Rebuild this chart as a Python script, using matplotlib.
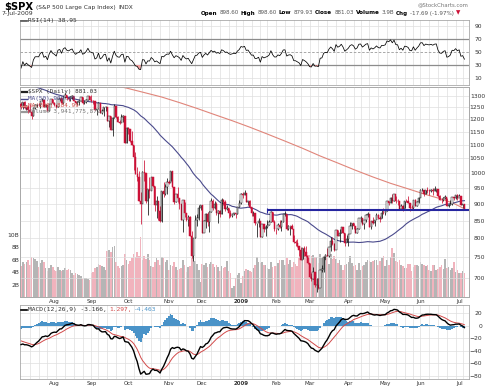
import numpy as np
import pandas as pd
import matplotlib
matplotlib.use("Agg")
import matplotlib.pyplot as plt
from matplotlib.lines import Line2D

W, H = 490, 389

# NYSE holidays inside the span
holidays = ["2008-03-21", "2008-05-26", "2008-07-04", "2008-09-01", "2008-11-27",
            "2008-12-25", "2009-01-01", "2009-01-19", "2009-02-16", "2009-04-10",
            "2009-05-25", "2009-07-03"]

# closes before the visible window (Mar 3 - Jul 3 2008), warm-up for MA50 / RSI / MACD
pre_closes = [
    1331.3, 1326.8, 1333.7, 1304.3, 1293.4, 1273.4, 1320.7, 1308.8, 1315.5, 1288.1,
    1276.6, 1330.7, 1298.4, 1329.5, 1349.9, 1353.0, 1341.1, 1325.8, 1315.2, 1322.7,
    1370.2, 1367.5, 1369.3, 1370.4, 1372.5, 1365.5, 1354.5, 1360.6, 1332.8, 1328.3, 1334.4,
    1364.7, 1365.6, 1390.3, 1388.2, 1375.9, 1379.9, 1388.8, 1397.8, 1396.4, 1390.9, 1385.6,
    1409.3, 1413.9, 1407.5, 1418.3, 1392.6, 1397.7, 1388.3, 1403.6, 1403.0, 1408.7, 1423.6,
    1425.4, 1426.6, 1413.4, 1390.7, 1394.4, 1375.9, 1385.4, 1390.8, 1398.3, 1400.4,
    1385.7, 1377.7, 1377.2, 1404.1, 1360.7, 1361.8, 1358.4, 1335.5, 1339.9, 1360.0, 1360.1,
    1350.9, 1337.8, 1342.8, 1317.9, 1318.0, 1314.3, 1322.0, 1283.2, 1278.4, 1280.0,
    1284.9, 1261.5, 1262.9,
]

# visible window: Jul 7 2008 - Jul 7 2009 (daily)
closes = [
    # Jul 2008
    1252.3, 1273.7, 1244.7, 1253.4, 1239.5, 1228.3, 1214.9, 1245.4, 1260.3, 1260.7,
    1260.0, 1277.0, 1282.2, 1252.5, 1257.8, 1234.4, 1263.2, 1284.3, 1267.4,
    # Aug
    1260.3, 1249.0, 1284.9, 1289.2, 1266.1, 1296.3, 1305.3, 1289.6, 1285.8, 1292.9, 1298.2,
    1278.6, 1266.7, 1274.5, 1277.7, 1292.2, 1266.8, 1271.5, 1281.7, 1300.7, 1282.8,
    # Sep
    1277.6, 1275.0, 1236.8, 1242.3, 1267.8, 1224.5, 1232.0, 1249.1, 1251.7, 1192.7, 1213.6,
    1156.4, 1206.5, 1255.1, 1207.1, 1188.2, 1185.9, 1209.2, 1213.3, 1106.4, 1166.4,
    # Oct
    1161.1, 1114.3, 1099.2, 1056.9, 996.2, 984.9, 909.9, 899.2, 1003.4, 998.0, 907.8, 946.4,
    940.6, 985.4, 955.1, 896.8, 908.1, 876.8, 848.9, 940.5, 930.1, 954.1, 968.8,
    # Nov
    966.3, 1005.8, 952.8, 904.9, 931.0, 919.2, 899.0, 852.3, 911.3, 873.3, 850.8, 859.1,
    806.6, 752.4, 800.0, 851.8, 857.4, 887.7, 896.2,
    # Dec
    816.2, 848.8, 870.7, 845.2, 876.1, 909.7, 888.7, 899.2, 873.6, 879.7, 868.6, 913.2,
    904.4, 885.3, 887.9, 871.6, 863.2, 868.2, 872.8, 869.4, 890.6, 903.3,
    # Jan 2009
    931.8, 927.5, 934.7, 906.7, 909.7, 890.4, 871.0, 871.8, 842.6, 843.7, 850.1, 805.2,
    840.2, 827.5, 832.0, 836.6, 845.7, 874.1, 845.1, 825.9,
    # Feb
    825.4, 838.5, 832.2, 845.9, 868.6, 869.9, 827.2, 833.7, 835.2, 826.8, 789.2, 788.4,
    778.9, 770.1, 743.3, 773.1, 764.9, 752.8, 735.1,
    # Mar
    700.8, 696.3, 712.9, 682.6, 683.4, 676.5, 719.6, 721.4, 750.7, 756.6, 753.9, 778.1,
    794.4, 784.0, 768.5, 822.9, 806.1, 813.9, 832.9, 815.9, 787.5, 797.9,
    # Apr
    811.1, 834.4, 842.5, 835.5, 815.6, 825.2, 856.6, 858.7, 841.5, 852.1, 865.3, 869.6,
    832.4, 850.1, 843.6, 851.9, 866.2, 857.5, 855.2, 873.6, 872.8,
    # May
    877.5, 907.2, 903.8, 919.5, 907.4, 929.2, 909.2, 908.4, 883.9, 893.1, 882.9, 909.7,
    908.1, 903.5, 888.3, 887.0, 910.3, 893.1, 906.8, 919.1,
    # Jun
    942.9, 944.7, 931.8, 942.5, 940.1, 939.1, 942.4, 939.2, 944.9, 946.2, 923.7, 912.0,
    910.7, 918.4, 921.2, 893.0, 895.1, 900.9, 920.3, 918.9, 927.2, 919.3,
    # Jul
    923.3, 896.4, 898.7, 881.0,
]

highs = [
    1273.9, 1274.0, 1277.4, 1257.7, 1253.5, 1262.3, 1234.7, 1246.9, 1262.3, 1262.2,
    1267.7, 1277.8, 1291.2, 1282.2, 1263.2, 1260.1, 1264.0, 1284.9, 1284.3,
    1270.5, 1260.5, 1285.0, 1291.7, 1289.2, 1297.9, 1313.2, 1303.0, 1294.0, 1300.1, 1301.0,
    1300.2, 1278.6, 1276.4, 1279.4, 1293.7, 1292.2, 1276.1, 1287.4, 1300.7, 1300.7,
    1303.0, 1280.6, 1275.0, 1242.6, 1274.4, 1268.0, 1243.4, 1249.1, 1255.1, 1250.9, 1214.8,
    1214.0, 1211.1, 1265.1, 1255.4, 1214.8, 1197.4, 1221.0, 1215.8, 1209.1, 1169.3,
    1167.0, 1161.1, 1153.8, 1099.2, 1072.9, 1021.1, 1005.3, 936.4, 1006.9, 1044.3, 994.5, 947.7,
    984.4, 985.4, 985.4, 955.1, 922.8, 896.1, 893.8, 940.5, 970.0, 963.2, 984.2,
    975.5, 1007.5, 1005.4, 952.4, 931.0, 952.0, 917.7, 898.4, 913.0, 904.9, 873.4, 866.4,
    864.6, 820.5, 801.2, 865.6, 868.9, 896.3, 896.3,
    888.6, 850.5, 873.1, 875.6, 879.4, 918.9, 916.3, 908.0, 904.6, 881.0, 880.7, 917.4,
    914.7, 911.0, 897.8, 887.4, 880.4, 869.8, 873.7, 873.7, 891.1, 910.3,
    934.7, 936.6, 943.9, 934.7, 910.0, 911.9, 890.4, 877.0, 871.8, 844.0, 858.1, 849.6,
    841.7, 838.2, 838.2, 852.5, 850.5, 877.9, 874.1, 851.7,
    825.9, 842.6, 851.9, 850.6, 870.8, 877.0, 868.1, 838.2, 835.2, 839.4, 808.2, 796.2,
    797.6, 778.7, 777.5, 775.5, 780.1, 779.4, 751.3,
    735.1, 712.4, 727.0, 708.4, 699.1, 700.0, 719.6, 731.9, 752.6, 758.3, 774.5, 778.1,
    803.0, 803.0, 788.9, 823.4, 823.4, 826.1, 833.0, 832.9, 815.9, 810.5,
    811.1, 845.5, 842.5, 842.5, 835.5, 828.7, 856.9, 864.3, 856.9, 853.0, 870.3, 875.6,
    868.3, 850.1, 861.8, 852.9, 871.8, 868.3, 864.5, 882.1, 888.7,
    880.2, 907.9, 907.7, 920.3, 929.6, 930.2, 923.0, 915.6, 908.4, 898.4, 897.0, 910.0,
    916.4, 924.6, 900.7, 896.7, 911.8, 913.8, 909.5, 920.0,
    947.8, 949.4, 942.5, 942.5, 951.7, 946.3, 947.0, 949.8, 956.2, 946.3, 942.5, 928.0,
    918.4, 921.9, 927.1, 918.1, 898.7, 910.9, 921.4, 922.0, 928.0, 930.0,
    931.9, 921.2, 898.7, 898.6,
]

lows = [
    1240.7, 1242.8, 1244.6, 1236.8, 1225.0, 1228.3, 1200.4, 1211.4, 1241.5, 1251.8,
    1255.5, 1248.8, 1275.4, 1251.6, 1251.1, 1234.4, 1234.4, 1264.3, 1265.3,
    1254.5, 1247.5, 1249.0, 1276.7, 1265.9, 1263.2, 1291.7, 1282.4, 1274.9, 1276.8, 1285.6,
    1276.1, 1263.1, 1261.2, 1261.0, 1277.7, 1264.8, 1263.1, 1268.8, 1282.1, 1282.8,
    1272.2, 1265.6, 1236.8, 1217.0, 1247.1, 1224.5, 1221.9, 1211.5, 1233.8, 1192.7, 1169.3,
    1155.9, 1133.5, 1206.8, 1205.6, 1187.2, 1179.8, 1187.6, 1187.6, 1106.4, 1106.4,
    1140.8, 1111.4, 1098.1, 1008.0, 996.2, 971.0, 909.2, 839.8, 912.8, 972.1, 904.0, 865.8,
    918.7, 943.8, 952.5, 877.0, 858.4, 852.9, 845.9, 845.3, 922.3, 928.6, 930.2,
    962.8, 971.0, 951.9, 899.7, 906.3, 906.5, 883.3, 852.3, 818.7, 859.5, 849.5, 834.3,
    806.2, 747.8, 741.0, 801.2, 835.0, 852.1, 881.2,
    815.7, 817.9, 827.6, 833.3, 818.4, 876.1, 881.2, 885.4, 866.9, 842.2, 860.9, 868.6,
    896.5, 877.4, 881.0, 857.1, 860.1, 861.4, 866.5, 857.1, 870.6, 889.6,
    899.4, 919.5, 927.3, 906.7, 896.8, 888.3, 864.3, 862.0, 836.9, 804.5, 830.7, 805.2,
    804.3, 817.9, 806.1, 827.7, 836.6, 845.7, 845.1, 821.7,
    811.1, 822.0, 829.2, 819.9, 845.9, 862.5, 823.0, 822.0, 808.1, 825.2, 787.5, 780.4,
    777.0, 754.3, 743.3, 745.0, 752.9, 751.8, 734.5,
    699.7, 692.4, 698.0, 679.3, 666.8, 672.9, 679.0, 713.9, 714.8, 742.5, 753.4, 749.9,
    765.6, 781.8, 766.2, 772.5, 805.9, 791.4, 814.0, 814.7, 779.8, 790.8,
    779.8, 814.5, 826.7, 826.8, 814.5, 814.8, 825.2, 845.4, 836.5, 826.8, 847.0, 860.9,
    832.4, 826.8, 840.6, 835.6, 853.9, 854.7, 847.1, 856.8, 868.9,
    866.1, 879.2, 897.3, 903.9, 901.4, 909.8, 903.8, 896.9, 881.3, 882.5, 878.9, 886.1,
    905.2, 901.4, 879.6, 883.8, 881.5, 891.9, 892.3, 903.8,
    923.3, 938.5, 923.9, 929.3, 934.1, 926.4, 936.7, 928.0, 939.0, 935.7, 919.7, 911.6,
    903.8, 907.9, 915.8, 893.0, 888.9, 896.0, 896.3, 913.0, 916.2, 912.9,
    920.8, 896.4, 886.4, 879.9,
]

# volume, billions of shares
volumes = [
    5.0, 5.7, 5.3, 5.6, 6.0, 5.1, 6.4, 6.3, 6.1, 5.8, 4.8, 5.5, 5.9, 5.7, 4.6, 4.2, 4.7, 5.2, 4.9,
    4.4, 4.2, 4.8, 4.3, 4.2, 4.3, 4.6, 4.3, 4.5, 4.4, 3.8, 3.5, 3.9, 3.7, 3.6, 3.4, 2.9, 3.0,
    3.1, 2.9, 2.8,
    3.9, 4.1, 4.6, 4.8, 5.4, 5.2, 5.0, 4.9, 4.3, 7.4, 7.6, 7.3, 8.1, 8.3, 5.6, 5.0, 4.7, 5.0,
    5.2, 7.0, 6.0,
    5.4, 5.8, 6.3, 6.9, 6.4, 7.2, 6.6, 9.6, 6.0, 6.6, 6.2, 6.9, 6.0, 5.0, 4.8, 5.6, 6.3, 5.9,
    5.1, 6.4, 6.3, 5.7, 6.0,
    4.3, 5.1, 5.0, 5.6, 4.9, 4.3, 4.5, 4.6, 5.9, 5.2, 4.1, 4.9, 5.0, 6.3, 7.0, 5.8, 5.4, 4.4, 2.4,
    5.3, 5.2, 5.5, 4.9, 5.3, 5.6, 5.3, 4.9, 5.1, 4.8, 4.2, 5.0, 4.7, 4.9, 5.8, 4.2, 3.9, 1.4,
    1.8, 3.0, 3.5, 3.9,
    2.2, 3.4, 4.2, 4.5, 4.4, 4.2, 4.0, 4.6, 5.1, 6.4, 5.7, 5.5, 5.6, 5.1, 5.2, 4.6, 4.5, 5.6,
    4.9, 5.0,
    5.0, 5.5, 5.9, 6.0, 5.9, 5.2, 6.3, 5.3, 5.9, 4.8, 5.6, 5.3, 5.0, 6.3, 6.0, 6.5, 6.6, 6.6, 6.8,
    6.8, 6.6, 6.7, 6.4, 6.4, 5.5, 7.0, 6.3, 6.3, 5.8, 6.6, 5.4, 7.0, 6.2, 6.6, 6.1, 5.5, 6.0,
    5.2, 4.4, 5.1, 5.3,
    5.7, 6.6, 5.5, 5.0, 5.1, 4.4, 5.5, 4.4, 5.0, 5.2, 5.6, 6.0, 5.8, 5.6, 5.8, 5.9, 5.9, 5.2,
    5.8, 6.3, 6.6,
    5.0, 6.0, 5.1, 6.5, 7.9, 7.1, 5.8, 5.6, 6.0, 5.2, 5.0, 4.7, 4.7, 5.4, 5.3, 4.2, 4.8, 5.1,
    5.2, 5.0,
    5.6, 5.4, 5.1, 5.0, 5.2, 4.4, 4.2, 5.1, 5.2, 4.3, 4.5, 4.8, 5.2, 4.5, 6.1, 4.7, 4.8, 4.4,
    4.7, 5.7, 4.0, 4.4,
    3.8, 3.8, 4.2, 3.9,
]

# MA(200) (trading-day index in the visible window, value)
ma200_idx = [40, 50, 60, 70, 80, 90, 100, 110, 120, 130, 140, 150, 160, 170, 180, 190,
             200, 210, 220, 230, 240, 246, 252]
ma200_val = [1372, 1352, 1334, 1314, 1294, 1270, 1245, 1219, 1194, 1168, 1141, 1114,
             1087, 1059, 1034, 1009, 986, 965, 947, 929, 913, 901, 885]

trend_level = 880.0
trend_start = 140

price_ticks = list(range(700, 1301, 50))
vol_ticks = [2, 4, 6, 8, 10]
vol_labels = ["2B", "4B", "6B", "8B", "10B"]
rsi_ticks = [90, 70, 50, 30, 10]
macd_ticks = [20, 0, -20, -40, -60, -80]

RED = "#cc1036"
MA50_C = "#4a4a8c"
MA200_C = "#e0857a"
HIST_C = "#4a93c8"
GRID_C = "#dedede"
SPINE_C = "#a8a8a8"


def rect(x0, y0, x1, y1):
    return [x0 / W, 1 - y1 / H, (x1 - x0) / W, (y1 - y0) / H]


def style(ax):
    for s in ax.spines.values():
        s.set_color(SPINE_C)
        s.set_linewidth(0.6)
    ax.tick_params(length=0, labelsize=4.3, colors="#333333")


# ---- data frames / indicators ----
dates = pd.bdate_range("2008-03-03", "2009-07-07")
dates = dates[~dates.isin(pd.to_datetime(holidays))]
n_pre = len(pre_closes)
assert len(closes) == len(highs) == len(lows) == len(volumes) == 253
assert len(dates) == n_pre + len(closes)

all_c = pd.Series(pre_closes + closes, index=dates)
vis = slice(n_pre, None)
c = np.array(closes)
o = all_c.shift(1).to_numpy()[vis]          # index opens at the prior close
hi = np.array(highs)
lo = np.array(lows)
vol = np.array(volumes)
vdates = dates[vis]
n = len(c)
x = np.arange(n)

ma50 = all_c.rolling(50).mean().to_numpy()[vis]
delta = all_c.diff()
gain = delta.clip(lower=0).ewm(alpha=1 / 14, adjust=False).mean()
loss = (-delta.clip(upper=0)).ewm(alpha=1 / 14, adjust=False).mean()
rsi = (100 - 100 / (1 + gain / loss)).to_numpy()[vis]
ema12 = all_c.ewm(span=12, adjust=False).mean()
ema26 = all_c.ewm(span=26, adjust=False).mean()
macd = ema12 - ema26
signal = macd.ewm(span=9, adjust=False).mean()
hist = (macd - signal).to_numpy()[vis]
macd = macd.to_numpy()[vis]
signal = signal.to_numpy()[vis]

# first trading day of each week / month
week_starts = [i for i in range(1, n) if vdates[i].isocalendar()[1] != vdates[i - 1].isocalendar()[1]]
month_starts = [i for i in range(1, n) if vdates[i].month != vdates[i - 1].month]
month_labels = ["2009" if vdates[i].month == 1 else vdates[i].strftime("%b") for i in month_starts]

XL = (-0.6, 254.6)

fig = plt.figure(figsize=(W / 100, H / 100), dpi=100)
fig.patch.set_facecolor("white")

# ---- RSI panel ----
ax_rsi = fig.add_axes(rect(20, 19.5, 469, 84.5))
style(ax_rsi)
ax_rsi.set_xlim(*XL)
ax_rsi.set_ylim(0, 100)
for i in week_starts:
    ax_rsi.axvline(i, color=GRID_C, lw=0.5, zorder=0)
for v in (10, 90):
    ax_rsi.axhline(v, color=GRID_C, lw=0.5, zorder=0)
ax_rsi.axhline(70, color="#8c8c8c", lw=0.9, zorder=1)
ax_rsi.axhline(30, color="#8c8c8c", lw=0.9, zorder=1)
ax_rsi.axhline(50, color="#9a9a9a", lw=0.6, ls=(0, (3, 2)), zorder=1)
ax_rsi.fill_between(x, rsi, 30, where=rsi < 30, color="#f2a0a0", lw=0, zorder=1.5)
ax_rsi.plot(x, rsi, color="black", lw=0.55, zorder=2)
ax_rsi.set_xticks([])
ax_rsi.yaxis.tick_right()
ax_rsi.set_yticks(rsi_ticks)
ax_rsi.tick_params(axis="y", pad=13 * 0.72)
for t in ax_rsi.get_yticklabels():
    t.set_ha("right")

# ---- volume (under the price panel) ----
ax_vol = fig.add_axes(rect(20, 87, 469, 297))
style(ax_vol)
ax_vol.set_xlim(*XL)
ax_vol.set_ylim(0, 210 / 6.2)
vcol = np.where(c >= o, "#b5b5b5", "#f1b3bd")
ax_vol.bar(x, vol, width=0.9, color=vcol, lw=0, zorder=1)
ax_vol.set_yticks(vol_ticks)
ax_vol.set_yticklabels(vol_labels)
ax_vol.tick_params(axis="y", pad=0.5)
ax_vol.set_xticks([])

# ---- price panel ----
ax = fig.add_axes(rect(20, 87, 469, 297))
ax.patch.set_visible(False)
style(ax)
ax.set_yscale("log")
ax.set_xlim(*XL)
ax.set_ylim(700 * np.exp(-(297 - 277.7) / 294), 1300 * np.exp((95.7 - 87) / 294))
for i in week_starts:
    ax.axvline(i, color=GRID_C, lw=0.5, zorder=0)
for p in price_ticks:
    ax.axhline(p, color=GRID_C, lw=0.5, zorder=0)

ccol = np.where(c >= o, "#111111", RED)
face = np.where(c >= o, "white", RED)
ax.vlines(x, lo, hi, colors=ccol, lw=0.55, zorder=3)
ax.bar(x, np.abs(c - o), bottom=np.minimum(c, o), width=0.75, color=face,
       edgecolor=ccol, lw=0.35, zorder=4)
ax.plot(ma200_idx, ma200_val, color=MA200_C, lw=0.8, zorder=2)
ax.plot(x, ma50, color=MA50_C, lw=0.8, zorder=2)
ax.plot([trend_start, XL[1]], [trend_level, trend_level], color="#2626a0", lw=1.5,
        zorder=5, solid_capstyle="butt")
ax.vlines(trend_start, trend_level * 0.992, trend_level * 1.008, color="#2626a0", lw=0.8, zorder=5)

ax.yaxis.tick_right()
ax.yaxis.set_minor_locator(matplotlib.ticker.NullLocator())
ax.yaxis.set_minor_formatter(matplotlib.ticker.NullFormatter())
ax.set_yticks(price_ticks)
ax.set_yticklabels([str(p) for p in price_ticks])
ax.tick_params(axis="y", pad=16 * 0.72)
for t in ax.get_yticklabels():
    t.set_ha("right")
ax.set_xticks(month_starts)
ax.set_xticklabels(month_labels, fontsize=4.0)
ax.tick_params(axis="x", pad=1.5)
for t in ax.get_xticklabels():
    if t.get_text() == "2009":
        t.set_fontweight("bold")

# ---- MACD panel ----
ax_m = fig.add_axes(rect(20, 305, 469, 379))
style(ax_m)
ax_m.set_xlim(*XL)
ax_m.set_ylim(-80 - 3 / 0.63, 20 + 8 / 0.63)
for i in week_starts:
    ax_m.axvline(i, color=GRID_C, lw=0.5, zorder=0)
for v in macd_ticks:
    ax_m.axhline(v, color=GRID_C, lw=0.5, zorder=0)
ax_m.bar(x, hist, width=1.0, color=HIST_C, lw=0, zorder=1)
ax_m.plot(x, signal, color="#d24a4a", lw=0.7, zorder=2)
ax_m.plot(x, macd, color="black", lw=1.0, zorder=3)
ax_m.yaxis.tick_right()
ax_m.set_yticks(macd_ticks)
ax_m.tick_params(axis="y", pad=13 * 0.72)
for t in ax_m.get_yticklabels():
    t.set_ha("right")
ax_m.set_xticks(month_starts)
ax_m.set_xticklabels(month_labels, fontsize=4.0)
ax_m.tick_params(axis="x", pad=1.5)
for t in ax_m.get_xticklabels():
    if t.get_text() == "2009":
        t.set_fontweight("bold")

# ---- texts ----
renderer = fig.canvas.get_renderer()


def run(x_px, y_px, pieces, size, family="DejaVu Sans", gap=1.5):
    for s, weight, color in pieces:
        t = fig.text(x_px / W, 1 - y_px / H, s, fontsize=size, fontweight=weight,
                     color=color, va="center", ha="left", family=family)
        x_px += t.get_window_extent(renderer).width + gap
    return x_px


def icon(x0, x1, y, color, lw=1.0):
    fig.add_artist(Line2D([x0 / W, x1 / W], [1 - y / H, 1 - y / H], color=color, lw=lw))


fig.text(4 / W, 1 - 7 / H, "$SPX", fontsize=7.2, fontweight="bold", va="center", ha="left")
run(36, 7.5, [("(S&P 500 Large Cap Index)", "normal", "#333333"),
              ("INDX", "normal", "#333333")], 4.2, gap=3)
fig.text(1 / W, 1 - 13.5 / H, "7-Jul-2009", fontsize=4.4, color="#333333", va="center", ha="left")
fig.text(468 / W, 1 - 4.5 / H, "@StockCharts.com", fontsize=3.9, color="#777777",
         va="center", ha="right")
run(201, 13, [("Open", "bold", "black"), ("898.60", "normal", "#555555"),
              ("High", "bold", "black"), ("898.60", "normal", "#555555"),
              ("Low", "bold", "black"), ("879.93", "normal", "#555555"),
              ("Close", "bold", "black"), ("881.03", "normal", "#555555"),
              ("Volume", "bold", "black"), ("3.9B", "normal", "#555555"),
              ("Chg", "bold", "black"), ("-17.69 (-1.97%)", "normal", "#555555"),
              ("\u25bc", "normal", RED)], 4.05, gap=2.0)

mono = "DejaVu Sans Mono"
icon(21, 27, 20.5, "#555555", 1.2)
fig.text(28 / W, 1 - 20.5 / H, "RSI(14) 38.95", fontsize=4.5, family=mono,
         color="#333333", va="center", ha="left")

icon(22, 27, 91.5, "#222222", 1.6)
fig.text(28 / W, 1 - 91.5 / H, "$SPX (Daily) 881.03", fontsize=4.3, family=mono,
         color="#333333", va="center", ha="left")
icon(21, 27, 98.8, MA50_C, 1.0)
fig.text(28 / W, 1 - 98.8 / H, "MA(50) 909.63", fontsize=4.3, family=mono,
         color=MA50_C, va="center", ha="left")
icon(21, 27, 105.5, MA200_C, 1.0)
fig.text(28 / W, 1 - 105.5 / H, "MA(200) 884.99", fontsize=4.3, family=mono,
         color="#d0504a", va="center", ha="left")
icon(22, 27, 112, "#999999", 1.6)
fig.text(28 / W, 1 - 112 / H, "Volume 3,941,775,872", fontsize=4.3, family=mono,
         color="#777777", va="center", ha="left")

icon(21, 27, 309.5, "black", 1.2)
run(28, 309.5, [("MACD(12,26,9) -3.166,", "normal", "#333333"),
                ("1.297,", "normal", "#d24a4a"),
                ("-4.463", "normal", HIST_C)], 4.5, family=mono, gap=2.5)

fig.savefig("out.png", dpi=100)
